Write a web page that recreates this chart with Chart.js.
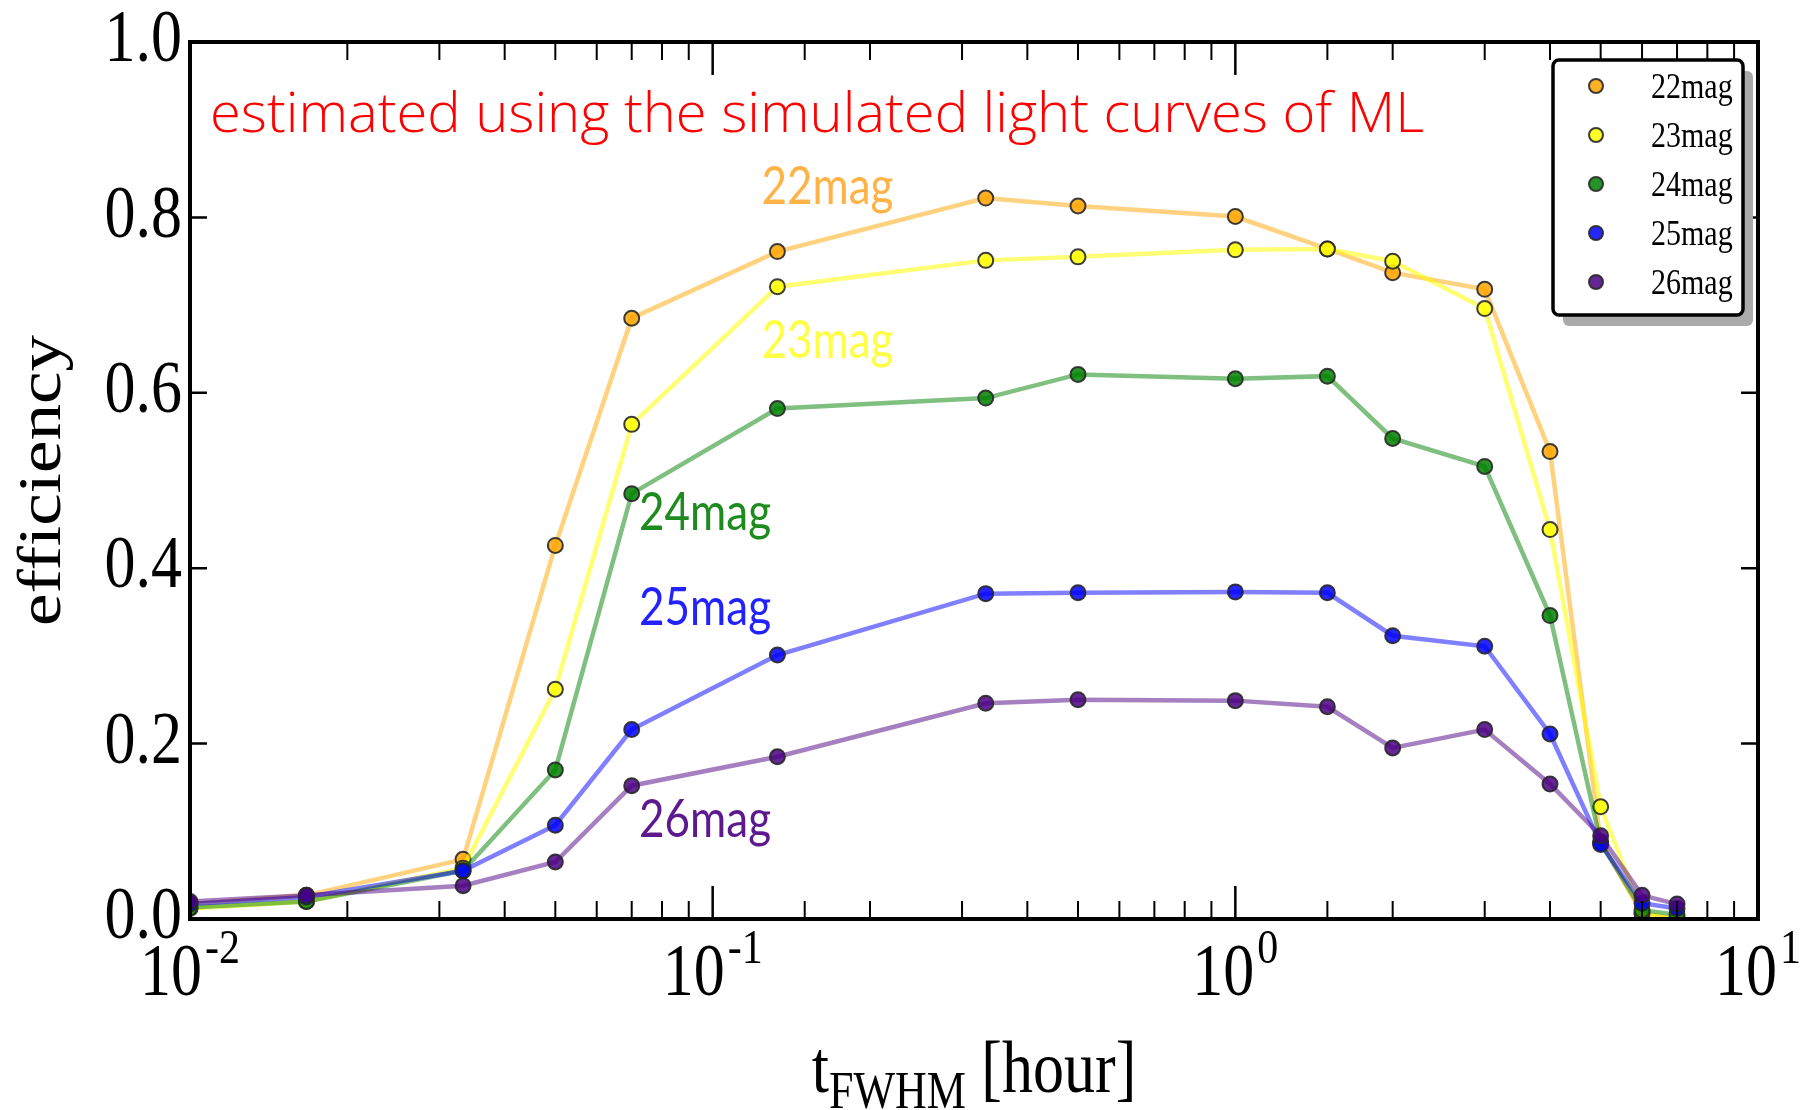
<html>
<head>
	<title>efficiency vs tFWHM</title>
	<meta charset="utf-8">
	<script src="https://cdn.jsdelivr.net/npm/chart.js"></script>
	<style>
		body { margin: 0; background: #fff; overflow: hidden; }
		canvas { display: block; }
	</style>
</head>
<body>
	<canvas id="myChart" width="1802" height="1110"></canvas>

	<script type="text/javascript">
		// t_FWHM [hour]
		const tFwhm = [0.01, 0.0167, 0.0333, 0.05, 0.07, 0.133, 0.333, 0.5, 1, 1.5, 2, 3, 4, 5, 6, 7];

		// detection efficiency per magnitude
		const eff22 = [0.017, 0.027, 0.068, 0.426, 0.685, 0.761, 0.822, 0.813, 0.801, 0.764, 0.737, 0.718, 0.533, 0.088, 0.006, 0.0];
		const eff23 = [0.012, 0.020, 0.058, 0.262, 0.564, 0.721, 0.751, 0.755, 0.763, 0.764, 0.750, 0.696, 0.444, 0.128, 0.007, 0.0];
		const eff24 = [0.013, 0.020, 0.055, 0.170, 0.485, 0.582, 0.594, 0.621, 0.616, 0.619, 0.548, 0.516, 0.346, 0.087, 0.010, 0.005];
		const eff25 = [0.017, 0.025, 0.055, 0.107, 0.216, 0.301, 0.371, 0.372, 0.373, 0.372, 0.323, 0.311, 0.211, 0.085, 0.018, 0.012];
		const eff26 = [0.020, 0.027, 0.038, 0.065, 0.152, 0.185, 0.246, 0.250, 0.249, 0.242, 0.195, 0.216, 0.154, 0.095, 0.027, 0.017];

		const magNames = ['22mag', '23mag', '24mag', '25mag', '26mag'];
		const yTicks = [0, 0.2, 0.4, 0.6, 0.8, 1.0];
		const note = 'estimated using the simulated light curves of ML';

		// where the coloured names sit, in data units (x, y of baseline)
		const nameX = [0.124, 0.124, 0.0723, 0.0723, 0.0723];
		const nameY = [0.815, 0.640, 0.444, 0.335, 0.094];

		const rgb = [[255, 165, 0], [255, 255, 0], [0, 128, 0], [0, 0, 255], [75, 0, 130]];
		const nameCol = ['#FFB347', '#FFFF44', '#1E8B1E', '#2222FF', '#5D198E'];
		const rgba = (c, a) => 'rgba(' + c[0] + ',' + c[1] + ',' + c[2] + ',' + a + ')';

		const series = [eff22, eff23, eff24, eff25, eff26];
		const datasets = series.map(function(vals, i) {
			return {
				label: magNames[i],
				data: tFwhm.map((t, j) => ({x: t, y: vals[j]})),
				borderColor: rgba(rgb[i], i == 1 ? 0.55 : 0.5),
				borderWidth: 4.5,
				pointRadius: 7.5,
				pointBorderWidth: 2,
				pointBackgroundColor: rgba(rgb[i], 0.85),
				pointBorderColor: 'rgba(40,40,40,0.9)',
				tension: 0,
				order: 4 - i
			};
		});

		const serif = '"Liberation Serif", "DejaVu Serif", serif';
		const noteFont = '"Open Sans", Lato, "Liberation Sans", sans-serif';
		const SY = 1.18;   // the original figure is a bit taller than wide

		function sText(ctx, txt, x, y, font, color, align, baseline) {
			ctx.save();
			ctx.font = font;
			ctx.fillStyle = color;
			ctx.textAlign = align || 'left';
			ctx.textBaseline = baseline || 'alphabetic';
			ctx.translate(x, y);
			ctx.scale(1, SY);
			ctx.fillText(txt, 0, 0);
			ctx.restore();
		}

		const axesPlugin = {
			id: 'axesPlugin',
			afterDatasetsDraw(chart) {
				const ctx = chart.ctx, a = chart.chartArea;
				const x = chart.scales.x, y = chart.scales.y;
				ctx.save();

				// names next to the curves
				magNames.forEach(function(n, i) {
					sText(ctx, n, x.getPixelForValue(nameX[i]), y.getPixelForValue(nameY[i]),
						'44px Lato, "Open Sans", sans-serif', nameCol[i]);
				});

				// red note, fitted to its width in the figure (not stretched)
				ctx.font = '300 50px ' + noteFont;
				let fs = 50 * 1215 / ctx.measureText(note).width;
				ctx.font = '300 ' + fs.toFixed(1) + 'px ' + noteFont;
				ctx.fillStyle = '#FF0000';
				ctx.textAlign = 'left';
				ctx.textBaseline = 'alphabetic';
				ctx.fillText(note, a.left + 20, a.top + 90);

				// inward ticks
				ctx.strokeStyle = '#000';
				x.ticks.forEach(function(t) {
					const lg = Math.log10(t.value);
					const major = Math.abs(lg - Math.round(lg)) < 1e-6;
					const px = x.getPixelForValue(t.value);
					const len = major ? 33 : 18;
					ctx.lineWidth = major ? 2.5 : 2;
					ctx.beginPath();
					ctx.moveTo(px, a.bottom); ctx.lineTo(px, a.bottom - len);
					ctx.moveTo(px, a.top); ctx.lineTo(px, a.top + len);
					ctx.stroke();
				});
				ctx.lineWidth = 2.5;
				yTicks.forEach(function(v) {
					const py = y.getPixelForValue(v);
					ctx.beginPath();
					ctx.moveTo(a.left, py); ctx.lineTo(a.left + 17, py);
					ctx.moveTo(a.right, py); ctx.lineTo(a.right - 17, py);
					ctx.stroke();
				});

				// frame
				ctx.lineWidth = 4;
				ctx.strokeRect(a.left, a.top, a.right - a.left, a.bottom - a.top);

				// y tick labels
				yTicks.forEach(function(v) {
					sText(ctx, v.toFixed(1), a.left - 8, y.getPixelForValue(v), '62px ' + serif, '#000', 'right', 'middle');
				});

				// x tick labels 10^n
				x.ticks.forEach(function(t) {
					const lg = Math.log10(t.value);
					if (Math.abs(lg - Math.round(lg)) > 1e-6) return;
					const sup = String(Math.round(lg));
					ctx.font = '62px ' + serif;
					const w1 = ctx.measureText('10').width;
					ctx.font = '42px ' + serif;
					const w2 = ctx.measureText(sup).width;
					const x0 = x.getPixelForValue(t.value) - (w1 + 3 + w2) / 2;
					sText(ctx, '10', x0, a.bottom + 76, '62px ' + serif, '#000');
					sText(ctx, sup, x0 + w1 + 3, a.bottom + 44, '42px ' + serif, '#000');
				});

				// x title: t_FWHM [hour]
				ctx.font = '62px ' + serif;
				const wt = ctx.measureText('t').width;
				const wh = ctx.measureText(' [hour]').width;
				ctx.font = '44px ' + serif;
				const ws = ctx.measureText('FWHM').width;
				let tx = (a.left + a.right) / 2 - (wt + ws + wh) / 2;
				const ty = a.bottom + 173;
				sText(ctx, 't', tx, ty, '62px ' + serif, '#000');
				sText(ctx, 'FWHM', tx + wt, ty + 16, '44px ' + serif, '#000');
				sText(ctx, ' [hour]', tx + wt + ws, ty, '62px ' + serif, '#000');

				// y title
				ctx.save();
				ctx.translate(60, (a.top + a.bottom) / 2);
				ctx.rotate(-Math.PI / 2);
				ctx.scale(SY, 1);
				ctx.font = '62px ' + serif;
				ctx.fillStyle = '#000';
				ctx.textAlign = 'center';
				ctx.fillText('efficiency', 0, 0);
				ctx.restore();

				// legend box with shadow
				const bw = 190, bh = 255;
				const bx = a.right - 15 - bw, by = a.top + 18;
				ctx.fillStyle = '#AAAAAA';
				ctx.beginPath(); ctx.roundRect(bx + 10, by + 11, bw, bh, 6); ctx.fill();
				ctx.fillStyle = '#fff';
				ctx.strokeStyle = '#000';
				ctx.lineWidth = 3.5;
				ctx.beginPath(); ctx.roundRect(bx, by, bw, bh, 6); ctx.fill(); ctx.stroke();
				chart.data.datasets.forEach(function(ds, i) {
					const my = by + 26 + i * 49;
					ctx.beginPath();
					ctx.arc(bx + 43, my, 7, 0, Math.PI * 2);
					ctx.fillStyle = ds.pointBackgroundColor;
					ctx.fill();
					ctx.lineWidth = 2;
					ctx.strokeStyle = ds.pointBorderColor;
					ctx.stroke();
					sText(ctx, ds.label, bx + 98, my + 12, '30px ' + serif, '#000');
				});

				ctx.restore();
			}
		};

		const ctx = document.getElementById('myChart').getContext('2d');
		new Chart(ctx, {
			type: 'line',
			data: { datasets: datasets },
			options: {
				responsive: false,
				animation: false,
				layout: { padding: { top: 42, right: 44, left: 0, bottom: 0 } },
				plugins: { legend: { display: false }, tooltip: { enabled: false } },
				scales: {
					x: {
						type: 'logarithmic', min: 0.01, max: 10,
						grid: { display: false }, border: { display: false },
						ticks: { display: false },
						afterFit: function(s) { s.height = 191; }
					},
					y: {
						min: 0, max: 1,
						grid: { display: false }, border: { display: false },
						ticks: { display: false, stepSize: 0.2 },
						afterFit: function(s) { s.width = 190; }
					}
				}
			},
			plugins: [axesPlugin]
		});
	</script>
</body>
</html>
